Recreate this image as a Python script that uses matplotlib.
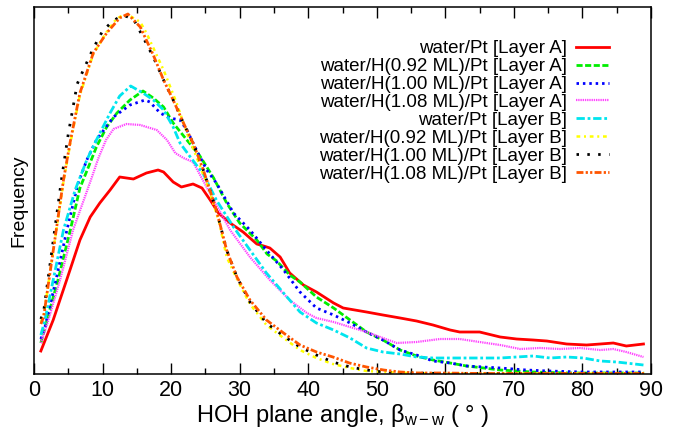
import matplotlib
matplotlib.use("Agg")
import matplotlib.pyplot as plt

plt.rcParams['font.family'] = ['Liberation Sans', 'DejaVu Sans']
plt.rcParams['mathtext.fontset'] = 'custom'
plt.rcParams['mathtext.rm'] = 'Liberation Sans'
plt.rcParams['mathtext.it'] = 'Liberation Sans:italic'

labels = [
    "water/Pt [Layer A]",
    "water/H(0.92 ML)/Pt [Layer A]",
    "water/H(1.00 ML)/Pt [Layer A]",
    "water/H(1.08 ML)/Pt [Layer A]",
    "water/Pt [Layer B]",
    "water/H(0.92 ML)/Pt [Layer B]",
    "water/H(1.00 ML)/Pt [Layer B]",
    "water/H(1.08 ML)/Pt [Layer B]",
]

# water/Pt [Layer A]
red_x = [1, 2.8, 5.25, 6.7, 8.2, 9.6, 11.1, 12.5, 14.5, 16.4, 18.1, 18.9, 20.3, 21.5, 23.2, 24.5, 25.7,
         26.9, 28.6, 30.5, 32.5, 33.5, 34.4, 35.9, 37.3, 39.3, 41.2, 43.7, 45.1, 48.5, 50.9, 53.4, 55.8,
         58.2, 60.7, 62.1, 65, 68, 70.4, 72.8, 74.8, 77.7, 80.6, 82.6, 84.5, 86.4, 88.9]
red_y = [23, 54, 104, 134, 157, 171, 184, 197, 195, 201, 204, 202, 192, 187, 190, 186, 174,
         161, 151, 142, 130, 128, 126, 117, 101, 89, 82, 71, 66, 62, 59, 56, 53,
         49, 44, 42, 42, 37, 35, 34, 33, 30, 29, 30, 31, 28, 30]

# water/H(0.92 ML)/Pt [Layer A]
green_x = [1, 1.9, 3.5, 5.3, 6.7, 8, 9.1, 10.6, 12.1, 14, 15.9, 17.4, 18.9, 20.3, 22.3, 24.2, 26.2, 28.1,
           30, 32.5, 34, 35.4, 37.3, 38.8, 41.2, 43.7, 46.1, 48.5, 50.9, 53.4, 55.8, 58.2, 60.7, 63.1,
           65.6, 68, 72.8, 78, 84, 89]
green_y = [31, 54, 94, 144, 186, 208, 227, 247, 261, 274, 283, 276, 267, 251, 234, 218, 196, 171,
           151, 134, 120, 113, 99, 92, 77, 66, 54, 42, 34, 24, 18, 14, 11, 8,
           6, 4, 2, 1, 1, 1]

# water/H(1.00 ML)/Pt [Layer A]
blue_x = [1, 1.6, 3.2, 4.8, 6.4, 7.7, 9.1, 11.6, 14, 16.2, 16.9, 18.4, 19.8, 21.3, 22.3, 23.7, 25.2, 26.6,
          29.1, 31.5, 33.9, 36.4, 38.8, 41.2, 43.7, 46.1, 48.5, 50.9, 53.4, 55.8, 58.2, 60.7, 63.1, 68,
          71.8, 75, 80, 85, 89]
blue_y = [35, 47, 94, 144, 190, 214, 234, 257, 269, 274, 272, 261, 256, 254, 244, 224, 204, 191,
          161, 144, 124, 104, 82, 66, 59, 51, 42, 34, 24, 19, 13, 11, 8, 6,
          4, 3, 2, 2, 2]

# water/H(1.08 ML)/Pt [Layer A]
magenta_x = [1, 2.1, 3.8, 5.7, 8.3, 9.4, 10.5, 11.6, 13.5, 15.5, 17.9, 19.4, 20.6, 21.8, 23.2, 26.2, 28.6,
             31.5, 34.4, 37.3, 39.8, 41.2, 43.7, 46.1, 48.5, 50.9, 52.9, 55.8, 59.2, 62.1, 65, 68, 70.9,
             73.8, 76.7, 79.6, 82.6, 84.5, 86.4, 88.9]
magenta_y = [31, 54, 94, 144, 194, 216, 234, 245, 250, 249, 244, 234, 221, 216, 212, 174, 144,
             117, 94, 74, 61, 56, 52, 47, 42, 36, 31, 32, 35, 35, 32, 29, 25,
             26, 25, 26, 24, 25, 22, 17]

# water/Pt [Layer B]
cyan_x = [1, 1.6, 2.8, 4.3, 6, 7.7, 9.1, 11.1, 12.5, 14.1, 15.9, 17.4, 18.9, 20.3, 21.3, 22.8, 24.7, 26.6,
          29.1, 31.5, 33.9, 36.4, 38.8, 41.2, 43.7, 46.1, 48.5, 50.9, 53.4, 55.8, 58.2, 63.1, 68, 70.4,
          72.8, 75.3, 77.7, 80.1, 82.6, 85, 88.9]
cyan_y = [39, 54, 94, 144, 184, 214, 234, 261, 278, 288, 281, 274, 264, 247, 231, 217, 200, 174,
          147, 124, 101, 81, 62, 51, 44, 36, 26, 22, 20, 17, 16, 16, 16, 17,
          18, 16, 17, 16, 13, 12, 9]

# water/H(0.92 ML)/Pt [Layer B]
yellow_x = [1, 1.4, 4.3, 5.25, 6.7, 8.65, 10.6, 12, 13, 14, 15.5, 16.4, 18.9, 20.8, 22.3, 24, 25.5, 27,
            28.1, 29.6, 31.5, 33.9, 36.4, 38.8, 41.2, 43.6, 46.1, 48.5, 51, 55, 60, 70, 80, 89]
yellow_y = [52, 58, 192, 229, 279, 320, 342, 355, 359, 358, 352, 341, 304, 271, 241, 212, 185, 152,
            117, 95, 70, 49, 36, 24, 16, 10, 6, 3, 2, 1, 0.5, 0.5, 0.5, 0.5]

# water/H(1.00 ML)/Pt [Layer B]
black_x = [1, 1.4, 4, 5, 6.3, 7.2, 8.6, 10, 11.5, 12.5, 13.3, 14.5, 15.9, 17.4, 18.9, 20.3, 21.8, 23.2,
           24.7, 26.6, 28.1, 29.6, 31.5, 33.9, 36.4, 38.8, 41.2, 43.6, 46.1, 48.5, 51, 55, 60, 70, 80, 89]
black_y = [55, 62, 194, 240, 290, 304, 325, 343, 353, 357, 358, 355, 337, 317, 294, 274, 251, 231,
           204, 164, 124, 97, 72, 51, 38, 27, 19, 12, 7, 4, 2, 1, 0.5, 0.5, 0.5, 0.5]

# water/H(1.08 ML)/Pt [Layer B]
orange_x = [1, 1.4, 4.3, 5.25, 6.7, 8.65, 10.6, 12.5, 13.7, 15.5, 17.4, 18.9, 20.3, 21.8, 23.2, 24.7,
            26.6, 28.1, 29.6, 31.5, 33.9, 36.4, 38.8, 41.2, 43.6, 46, 48.5, 51, 53.4, 56, 60, 65, 70, 80, 89]
orange_y = [50, 57, 194, 231, 281, 321, 341, 356, 360, 347, 319, 294, 274, 251, 231, 204,
            164, 124, 97, 74, 54, 41, 29, 22, 17, 11, 7, 4, 2, 1, 1, 0.5, 0.5, 0.5, 0.5]

series = [(red_x, red_y), (green_x, green_y), (blue_x, blue_y), (magenta_x, magenta_y),
          (cyan_x, cyan_y), (yellow_x, yellow_y), (black_x, black_y), (orange_x, orange_y)]
colors = ['#ff0000', '#00ee00', '#0000ff', '#ff44ff', '#00e5ee', '#ffff00', '#000000', '#ff5500']
styles = [
    dict(linestyle='-', lw=2.0),
    dict(dashes=(2.2, 0.9), lw=2.0),
    dict(dashes=(0.9, 1.4), lw=2.0),
    dict(dashes=(0.6, 0.4), lw=1.6),
    dict(dashes=(3.0, 1.0, 1.0, 1.0), lw=2.0),
    dict(dashes=(1.5, 1.5, 0.8, 1.5), lw=1.8),
    dict(dashes=(0.9, 3.0), lw=2.0),
    dict(dashes=(2.5, 0.8, 0.8, 0.8, 0.8, 0.8), lw=2.0),
]

fig = plt.figure(figsize=(6.82, 4.28), dpi=100)
ax = fig.add_axes([34/682, 54/428, (651-34)/682, (374-7)/428])

for (x, y), c, st, lab in zip(series, colors, styles, labels):
    ax.plot(x, y, color=c, label=lab, **st)

ax.set_xlim(0, 90)
ax.set_ylim(0, 367)
ax.set_xticks(range(0, 91, 10))
ax.set_xticks(range(5, 90, 10), minor=True)
ax.set_yticks([])
ax.tick_params(axis='x', which='both', direction='in', top=True, labelsize=15.5, pad=4)
ax.tick_params(axis='x', which='major', length=8, width=1.0)
ax.tick_params(axis='x', which='minor', length=4, width=1.0)
for s in ax.spines.values():
    s.set_linewidth(1.1)

ax.set_xlabel('HOH plane angle, β$_{\\mathrm{w-w}}$ ( ° )', fontsize=17, labelpad=1)
ax.set_ylabel('Frequency', fontsize=14)
ax.yaxis.set_label_coords(-0.01, 0.471)

leg = ax.legend(loc='upper right', bbox_to_anchor=(0.95, 0.94), frameon=False, markerfirst=False,
                fontsize=13.5, handlelength=1.75, labelspacing=0.04, handletextpad=0.5,
                borderaxespad=0.2)
for t in leg.get_texts():
    t.set_ha('right')
leg._legend_box.align = 'right'

fig.savefig('out.png', dpi=100)
